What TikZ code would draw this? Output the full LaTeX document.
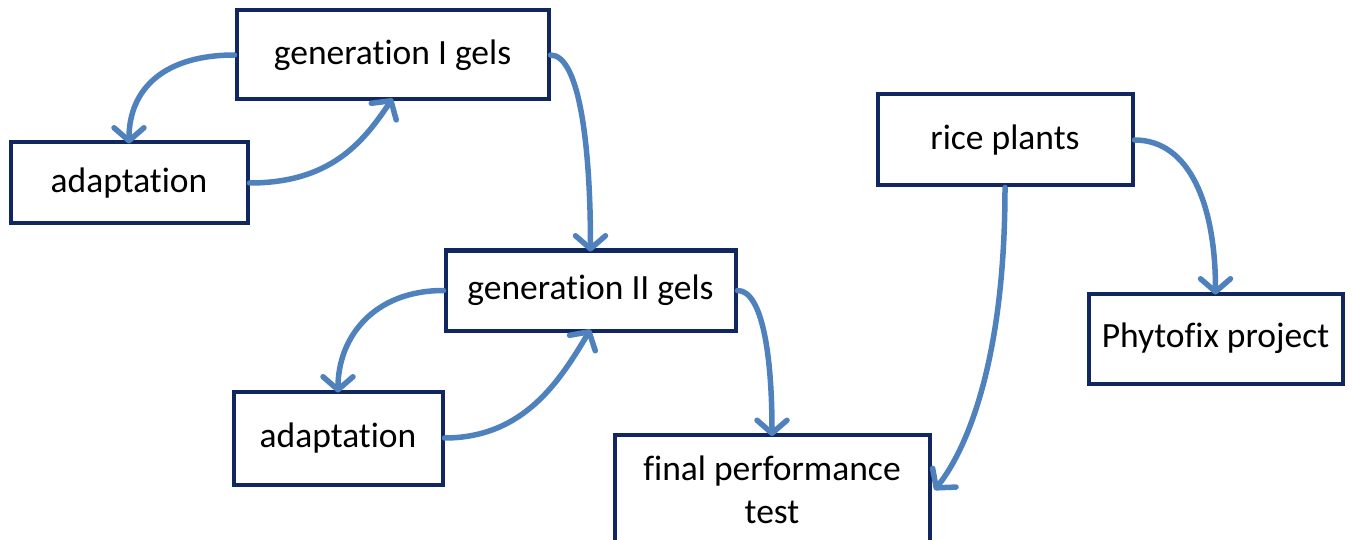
\documentclass[tikz,border=0pt]{standalone}
\usepackage{fontspec}
\setmainfont{Carlito}[RawFeature={-liga;-clig;-dlig;-calt}]
\usetikzlibrary{arrows.meta}
\definecolor{boxnavy}{HTML}{10285F}
\definecolor{arrowblue}{HTML}{4F81BD}
\begin{document}
\begin{tikzpicture}[x=1pt,y=-1pt,
  box/.style={draw=boxnavy,line width=4pt,fill=white,inner sep=0pt,align=center,
    font=\fontsize{35.5}{43}\selectfont},
  conn/.style={draw=arrowblue,line width=5.5pt,line cap=round,
    -{Straight Barb[length=13pt,width=30pt,line cap=round,line join=round]}}]
\useasboundingbox (0,0) rectangle (1352,540);
\node[box,minimum width=312pt,minimum height=89pt] (g1) at (392.5,55) {generation I gels};
\node[box,minimum width=237pt,minimum height=81pt] (a1) at (129,183) {adaptation};
\node[box,minimum width=290pt,minimum height=80pt] (g2) at (590.5,290.5) {generation II gels};
\node[box,minimum width=209pt,minimum height=93pt] (a2) at (338,438) {adaptation};
\node[box,minimum width=315pt,minimum height=110pt] (fin) at (772,490) {final performance\\test};
\node[box,minimum width=255pt,minimum height=91pt] (rice) at (1005,140) {rice plants};
\node[box,minimum width=254pt,minimum height=90pt] (phy) at (1215.5,338.5) {Phytofix project};
\draw[conn] (g1.west) .. controls +(-70,0) and +(0,-55) .. ([yshift=-3pt]a1.north);
\draw[conn] (a1.east) .. controls +(80,0) and +(-30,45) .. ([yshift=3pt]g1.south);
\draw[conn] (g1.east) .. controls +(30,0) and +(0,-100) .. ([yshift=-3pt]g2.north);
\draw[conn] (g2.west) .. controls +(-70,0) and +(0,-55) .. ([yshift=-3pt]a2.north);
\draw[conn] (a2.east) .. controls +(80,0) and +(-30,50) .. ([yshift=3pt]g2.south);
\draw[conn] (g2.east) .. controls +(25,0) and +(0,-80) .. ([yshift=-3pt]fin.north);
\draw[conn] (rice.east) .. controls +(55,0) and +(0,-90) .. ([yshift=-3pt]phy.north);
\draw[conn] (rice.south) .. controls +(0,200) and +(20,-25) .. ([xshift=3pt]fin.east);
\end{tikzpicture}
\end{document}
